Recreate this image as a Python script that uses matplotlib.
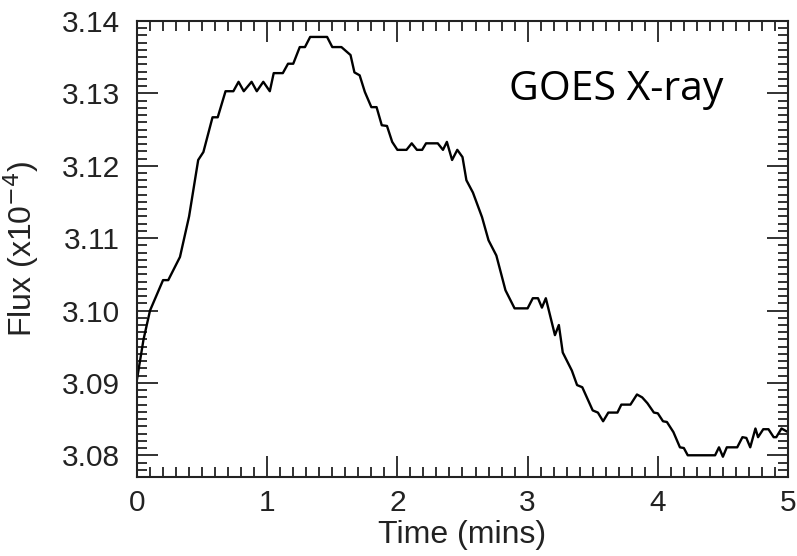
import matplotlib
matplotlib.use("Agg")
import matplotlib.pyplot as plt
from matplotlib.ticker import MultipleLocator

# GOES X-ray flux (time in mins, flux in 1e-4)
time_mins = [0.00, 0.05, 0.10, 0.20, 0.24, 0.33, 0.40, 0.47, 0.51, 0.58, 0.62,
             0.68, 0.74, 0.78, 0.82, 0.88, 0.92, 0.97, 1.02, 1.05, 1.12, 1.16,
             1.20, 1.25, 1.29, 1.33, 1.46, 1.50, 1.57, 1.64, 1.67, 1.71, 1.75,
             1.80, 1.84, 1.88, 1.92, 1.96, 2.00, 2.07, 2.11, 2.15, 2.19, 2.22,
             2.31, 2.35, 2.38, 2.42, 2.46, 2.50, 2.53, 2.58, 2.65, 2.70, 2.76,
             2.83, 2.90, 3.00, 3.04, 3.08, 3.11, 3.14, 3.21, 3.24, 3.27, 3.34,
             3.38, 3.42, 3.50, 3.54, 3.58, 3.62, 3.69, 3.72, 3.79, 3.84, 3.88,
             3.92, 3.97, 4.00, 4.04, 4.07, 4.12, 4.17, 4.20, 4.23, 4.44, 4.47,
             4.50, 4.53, 4.61, 4.65, 4.68, 4.71, 4.75, 4.77, 4.81, 4.85, 4.89,
             4.91, 4.95, 5.00]
flux = [3.0905, 3.0960, 3.1000, 3.1042, 3.1042, 3.1074, 3.1130, 3.1208,
        3.1219, 3.1267, 3.1267, 3.1303, 3.1303, 3.1316, 3.1303, 3.1316,
        3.1303, 3.1316, 3.1303, 3.1328, 3.1328, 3.1341, 3.1341, 3.1364,
        3.1364, 3.1378, 3.1378, 3.1364, 3.1364, 3.1353, 3.1329, 3.1325,
        3.1302, 3.1281, 3.1281, 3.1256, 3.1255, 3.1233, 3.1222, 3.1222,
        3.1231, 3.1222, 3.1222, 3.1231, 3.1231, 3.1222, 3.1233, 3.1208,
        3.1222, 3.1212, 3.1180, 3.1163, 3.1129, 3.1097, 3.1076, 3.1028,
        3.1003, 3.1003, 3.1017, 3.1017, 3.1004, 3.1017, 3.0966, 3.0980,
        3.0942, 3.0917, 3.0897, 3.0894, 3.0862, 3.0859, 3.0847, 3.0859,
        3.0859, 3.0870, 3.0870, 3.0884, 3.0880, 3.0872, 3.0859, 3.0858,
        3.0847, 3.0846, 3.0832, 3.0811, 3.0810, 3.0800, 3.0800, 3.0811,
        3.0798, 3.0811, 3.0811, 3.0825, 3.0824, 3.0811, 3.0837, 3.0825,
        3.0836, 3.0836, 3.0825, 3.0825, 3.0837, 3.0832]

plt.rcParams['font.family'] = ['Liberation Sans', 'DejaVu Sans']

fig = plt.figure(figsize=(7.97, 5.56), dpi=100)
ax = fig.add_axes([0.1719, 0.1421, 0.8168, 0.8201])

ax.plot(time_mins, flux, color='black', lw=1.7)

ax.set_xlim(0, 5)
ax.set_ylim(3.077, 3.14)
ax.xaxis.set_major_locator(MultipleLocator(1))
ax.xaxis.set_minor_locator(MultipleLocator(0.1))
ax.yaxis.set_major_locator(MultipleLocator(0.01))
ax.yaxis.set_minor_locator(MultipleLocator(0.001))
ax.yaxis.set_major_formatter(plt.FormatStrFormatter('%.2f'))

ax.tick_params(which='both', direction='in', top=True, right=True,
               width=1.3, labelsize=21.5, colors='#222222')
ax.tick_params(which='major', length=15)
ax.tick_params(which='minor', length=7)
ax.tick_params(axis='x', pad=9)
ax.tick_params(axis='y', pad=12)
for sp in ax.spines.values():
    sp.set_linewidth(1.5)
    sp.set_color('#222222')

ax.set_xlabel('Time (mins)', fontsize=23, labelpad=2, color='#222222')
ax.set_ylabel(r'Flux (x10$^{-4}$)', fontsize=23, labelpad=15, color='#222222')

ax.text(0.90, 0.827, 'GOES X-ray', transform=ax.transAxes, ha='right',
        va='baseline', fontsize=29.5, family=['Open Sans', 'DejaVu Sans'])

fig.savefig('out.png', dpi=100)
